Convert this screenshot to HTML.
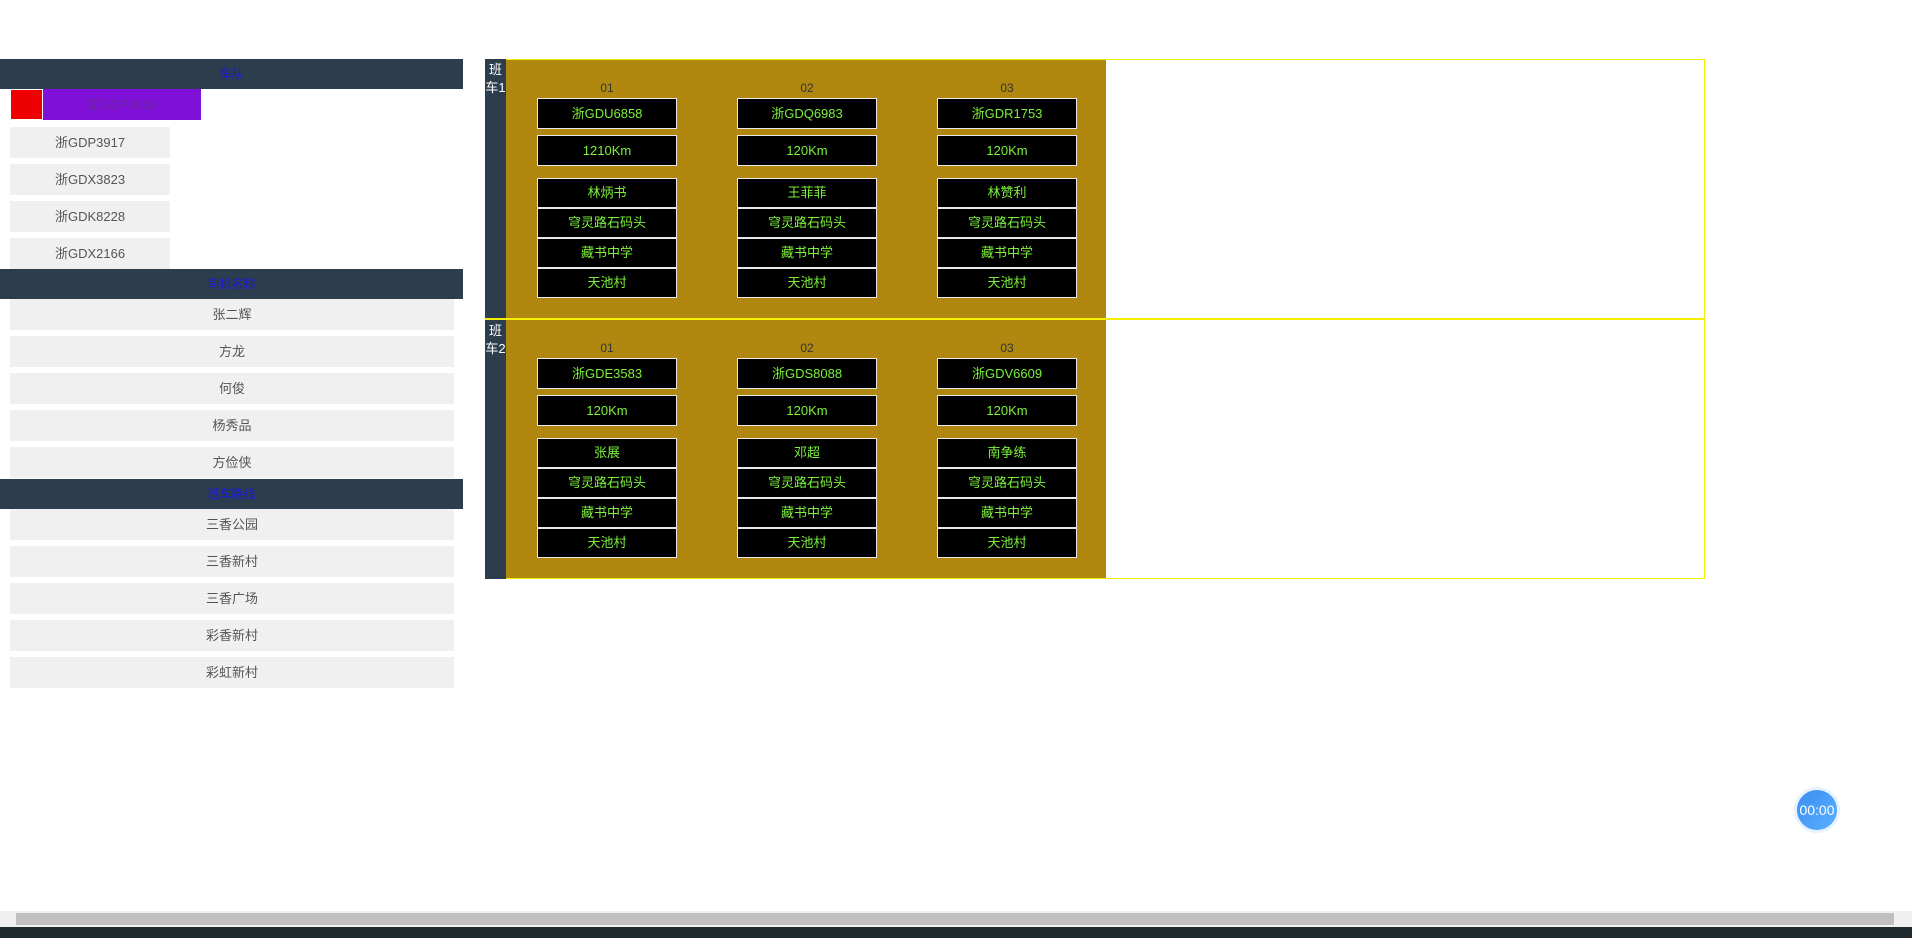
<!DOCTYPE html>
<html><head><meta charset="utf-8"><style>
body{margin:0;width:1912px;height:938px;position:relative;overflow:hidden;background:#fff;font-family:"Liberation Sans","Noto Sans CJK SC",sans-serif;}
div{position:absolute;box-sizing:border-box;}
.h{left:0;width:463px;height:30px;background:#2c3e4d;color:#1a1adc;font-size:12px;text-align:center;line-height:30px;}
.it{background:#f0f0f0;color:#555;font-size:13px;text-align:center;height:31px;line-height:31px;}
.c{background:#000;border:1px solid #e8e8e8;color:#7cf03c;font-size:13px;text-align:center;width:140px;}
.n{color:#333;font-size:12px;text-align:center;width:140px;}
.lab{left:485px;width:21px;background:#2c3e4d;color:#fff;font-size:13px;text-align:center;line-height:18px;padding-top:2px;}
</style></head><body>
<div class="h" style="top:59px">车队</div>
<div style="left:10px;top:89px;width:33px;height:31px;background:#e00;border:1px solid #fff"></div>
<div style="left:43px;top:89px;width:158px;height:31px;background:#8010d8;color:#6a2aa0;font-size:13px;text-align:center;line-height:31px">浙GDP0638</div>
<div class="it" style="left:10px;width:160px;top:127px">浙GDP3917</div>
<div class="it" style="left:10px;width:160px;top:164px">浙GDX3823</div>
<div class="it" style="left:10px;width:160px;top:201px">浙GDK8228</div>
<div class="it" style="left:10px;width:160px;top:238px">浙GDX2166</div>
<div class="h" style="top:269px">司机名称</div>
<div class="it" style="left:10px;width:444px;top:299px">张二辉</div>
<div class="it" style="left:10px;width:444px;top:336px">方龙</div>
<div class="it" style="left:10px;width:444px;top:373px">何俊</div>
<div class="it" style="left:10px;width:444px;top:410px">杨秀品</div>
<div class="it" style="left:10px;width:444px;top:447px">方俭侠</div>
<div class="h" style="top:479px">班车路线</div>
<div class="it" style="left:10px;width:444px;top:509px">三香公园</div>
<div class="it" style="left:10px;width:444px;top:546px">三香新村</div>
<div class="it" style="left:10px;width:444px;top:583px">三香广场</div>
<div class="it" style="left:10px;width:444px;top:620px">彩香新村</div>
<div class="it" style="left:10px;width:444px;top:657px">彩虹新村</div>

<div style="left:485px;top:59px;width:1220px;height:520px;border:1px solid #f5f000"></div>
<div style="left:485px;top:318px;width:1220px;height:2px;background:#f5f000"></div>
<div class="lab" style="top:59px;height:259px">班<br>车1</div>
<div class="lab" style="top:320px;height:259px">班<br>车2</div>
<div style="left:506px;top:60px;width:600px;height:258px;background:#b0880f"></div>
<div style="left:506px;top:320px;width:600px;height:258px;background:#b0880f"></div>

<!-- row1 -->
<div class="n" style="left:537px;top:81px">01</div><div class="n" style="left:737px;top:81px">02</div><div class="n" style="left:937px;top:81px">03</div>
<div class="c" style="left:537px;top:98px;height:31px;line-height:29px">浙GDU6858</div>
<div class="c" style="left:737px;top:98px;height:31px;line-height:29px">浙GDQ6983</div>
<div class="c" style="left:937px;top:98px;height:31px;line-height:29px">浙GDR1753</div>
<div class="c" style="left:537px;top:135px;height:31px;line-height:29px">1210Km</div>
<div class="c" style="left:737px;top:135px;height:31px;line-height:29px">120Km</div>
<div class="c" style="left:937px;top:135px;height:31px;line-height:29px">120Km</div>
<div class="c" style="left:537px;top:178px;height:30px;line-height:28px">林炳书</div>
<div class="c" style="left:737px;top:178px;height:30px;line-height:28px">王菲菲</div>
<div class="c" style="left:937px;top:178px;height:30px;line-height:28px">林赞利</div>
<div class="c" style="left:537px;top:208px;height:30px;line-height:28px">穹灵路石码头</div>
<div class="c" style="left:737px;top:208px;height:30px;line-height:28px">穹灵路石码头</div>
<div class="c" style="left:937px;top:208px;height:30px;line-height:28px">穹灵路石码头</div>
<div class="c" style="left:537px;top:238px;height:30px;line-height:28px">藏书中学</div>
<div class="c" style="left:737px;top:238px;height:30px;line-height:28px">藏书中学</div>
<div class="c" style="left:937px;top:238px;height:30px;line-height:28px">藏书中学</div>
<div class="c" style="left:537px;top:268px;height:30px;line-height:28px">天池村</div>
<div class="c" style="left:737px;top:268px;height:30px;line-height:28px">天池村</div>
<div class="c" style="left:937px;top:268px;height:30px;line-height:28px">天池村</div>

<!-- row2 -->
<div class="n" style="left:537px;top:341px">01</div><div class="n" style="left:737px;top:341px">02</div><div class="n" style="left:937px;top:341px">03</div>
<div class="c" style="left:537px;top:358px;height:31px;line-height:29px">浙GDE3583</div>
<div class="c" style="left:737px;top:358px;height:31px;line-height:29px">浙GDS8088</div>
<div class="c" style="left:937px;top:358px;height:31px;line-height:29px">浙GDV6609</div>
<div class="c" style="left:537px;top:395px;height:31px;line-height:29px">120Km</div>
<div class="c" style="left:737px;top:395px;height:31px;line-height:29px">120Km</div>
<div class="c" style="left:937px;top:395px;height:31px;line-height:29px">120Km</div>
<div class="c" style="left:537px;top:438px;height:30px;line-height:28px">张展</div>
<div class="c" style="left:737px;top:438px;height:30px;line-height:28px">邓超</div>
<div class="c" style="left:937px;top:438px;height:30px;line-height:28px">南争练</div>
<div class="c" style="left:537px;top:468px;height:30px;line-height:28px">穹灵路石码头</div>
<div class="c" style="left:737px;top:468px;height:30px;line-height:28px">穹灵路石码头</div>
<div class="c" style="left:937px;top:468px;height:30px;line-height:28px">穹灵路石码头</div>
<div class="c" style="left:537px;top:498px;height:30px;line-height:28px">藏书中学</div>
<div class="c" style="left:737px;top:498px;height:30px;line-height:28px">藏书中学</div>
<div class="c" style="left:937px;top:498px;height:30px;line-height:28px">藏书中学</div>
<div class="c" style="left:537px;top:528px;height:30px;line-height:28px">天池村</div>
<div class="c" style="left:737px;top:528px;height:30px;line-height:28px">天池村</div>
<div class="c" style="left:937px;top:528px;height:30px;line-height:28px">天池村</div>

<div style="left:1794px;top:787px;width:46px;height:46px;border-radius:50%;background:linear-gradient(135deg,#3a8df0,#5ab0ff);border:3px solid #e6f2ff;color:#fff;font-size:14px;text-align:center;line-height:40px">00:00</div>

<div style="left:0;top:911px;width:1912px;height:16px;background:#f0f0f0"></div>
<div style="left:16px;top:913px;width:1878px;height:12px;background:#c0c0c0"></div>
<div style="left:0;top:927px;width:1912px;height:11px;background:#1e2a2e"></div>
</body></html>
